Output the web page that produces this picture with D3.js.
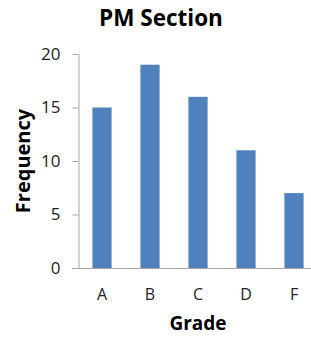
<!DOCTYPE html>
<html><head><meta charset="utf-8">
<script src="https://cdn.jsdelivr.net/npm/d3@7"></script>
<style>body{margin:0;background:#fff;overflow:hidden}svg{display:block}</style>
</head><body>
<script>
const categories = ["A","B","C","D","F"];
const frequencies = [15,19,16,11,7];
const yTicks = [0,5,10,15,20];
const title = "PM Section";
const xTitle = "Grade";
const yTitle = "Frequency";

const W = 311, H = 337;
const svg = d3.select("body").append("svg").attr("width", W).attr("height", H);
const font = "'Open Sans', 'Liberation Sans', sans-serif";
const x = d3.scaleBand().domain(categories).range([78, 318]).paddingInner(0.6).paddingOuter(0.3);
const y = d3.scaleLinear().domain([0, 20]).range([268, 54]);

svg.selectAll("rect.bar").data(categories).join("rect")
  .attr("class","bar")
  .attr("x", d => x(d))
  .attr("width", x.bandwidth())
  .attr("y", (d,i) => y(frequencies[i]))
  .attr("height", (d,i) => y(0) - y(frequencies[i]))
  .attr("fill", "#4f81bd");

const yAxis = svg.append("g").attr("transform","translate(78.5,0)")
  .call(d3.axisLeft(y).tickValues(yTicks).tickSize(6).tickPadding(12).tickSizeOuter(0));
yAxis.select(".domain").attr("stroke","#a6a6a6");
yAxis.selectAll(".tick line").attr("stroke","#a6a6a6");
yAxis.selectAll(".tick text").attr("font-family", font).attr("font-size", 17).attr("fill","#222");

const xAxis = svg.append("g").attr("transform","translate(0,268.5)")
  .call(d3.axisBottom(x).tickSize(0).tickPadding(20));
xAxis.select(".domain").attr("stroke","#a6a6a6").attr("d","M72,0H318");
xAxis.selectAll(".tick text").attr("font-family", font).attr("font-size", 16).attr("fill","#222");

svg.append("text").attr("x", 161).attr("y", 26).attr("text-anchor","middle")
  .attr("font-family", font).attr("font-weight","bold").attr("font-size", 22.5).attr("fill","#000").text(title);
svg.append("text").attr("x", 198).attr("y", 330).attr("text-anchor","middle")
  .attr("font-family", font).attr("font-weight","bold").attr("font-size", 19).attr("fill","#000").text(xTitle);
svg.append("text").attr("transform","translate(30,161) rotate(-90)").attr("text-anchor","middle")
  .attr("font-family", font).attr("font-weight","bold").attr("font-size", 20).attr("fill","#000").text(yTitle);
</script>
</body></html>
